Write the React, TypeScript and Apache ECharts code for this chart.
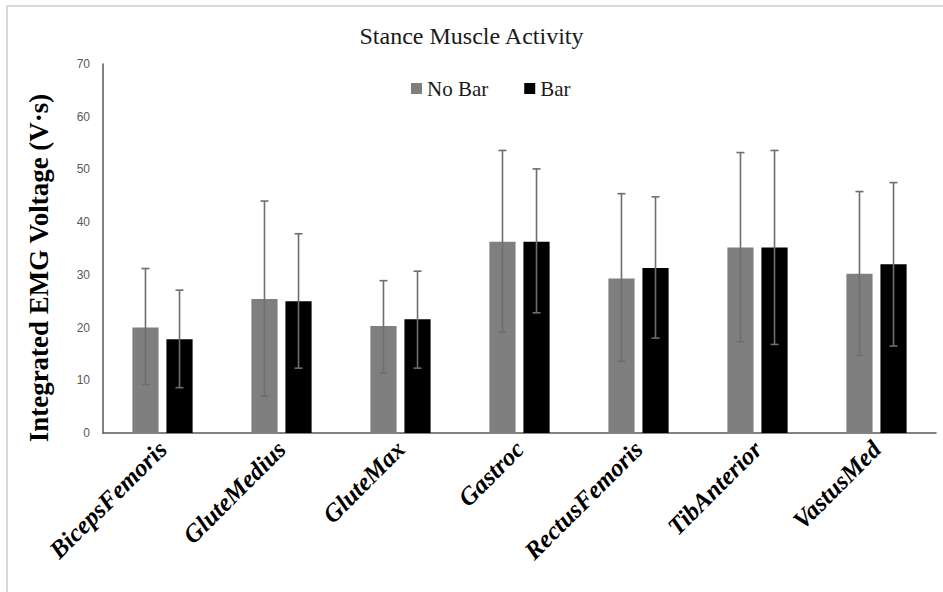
import React, { useEffect, useRef } from "react";
import * as echarts from "echarts";

const categories = ["BicepsFemoris", "GluteMedius", "GluteMax", "Gastroc", "RectusFemoris", "TibAnterior", "VastusMed"];
const seriesNames = ["No Bar", "Bar"];
const noBarValues = [20.0, 25.4, 20.3, 36.3, 29.3, 35.2, 30.2];
const noBarErrHigh = [31.2, 44.0, 28.9, 53.6, 45.4, 53.2, 45.8];
const noBarErrLow = [9.2, 7.0, 11.4, 19.1, 13.6, 17.3, 14.7];
const barValues = [17.8, 25.0, 21.6, 36.3, 31.3, 35.2, 32.0];
const barErrHigh = [27.1, 37.8, 30.7, 50.1, 44.8, 53.6, 47.5];
const barErrLow = [8.6, 12.3, 12.3, 22.8, 18.0, 16.8, 16.5];
const yTicks = { min: 0, max: 70, interval: 10 };

const BAR_W = 0.22;
const BAR_GAP = 0.3;
const SERIF = "'Liberation Serif', 'Times New Roman', serif";

function errorSeries(name: string, lows: number[], highs: number[], sign: number) {
  return {
    type: "custom",
    name: name + " err",
    z: 5,
    silent: true,
    data: categories.map((_, i) => [i, lows[i], highs[i]]),
    encode: { x: 0, y: [1, 2] },
    renderItem: (params: any, api: any) => {
      const i = api.value(0);
      const lo = api.coord([i, api.value(1)]);
      const hi = api.coord([i, api.value(2)]);
      const band = api.size([1, 0])[0];
      const bw = band * BAR_W;
      const cx = lo[0] + (sign * (bw + bw * BAR_GAP)) / 2;
      const cap = 4;
      const style = { stroke: "#6e6e6e", lineWidth: 1.6 };
      return {
        type: "group",
        children: [
          { type: "line", shape: { x1: cx, y1: lo[1], x2: cx, y2: hi[1] }, style },
          { type: "line", shape: { x1: cx - cap, y1: hi[1], x2: cx + cap, y2: hi[1] }, style },
          { type: "line", shape: { x1: cx - cap, y1: lo[1], x2: cx + cap, y2: lo[1] }, style },
        ],
      };
    },
  };
}

export default function App() {
  const ref = useRef<HTMLDivElement>(null);
  useEffect(() => {
    if (!ref.current) return;
    const chart = echarts.init(ref.current, null, { renderer: "svg" });
    chart.setOption({
      animation: false,
      backgroundColor: "#ffffff",
      title: {
        text: "Stance Muscle Activity",
        left: "center",
        top: 24,
        padding: 0,
        textStyle: { fontFamily: SERIF, fontSize: 24, fontWeight: "normal", color: "#1a1a1a" },
      },
      legend: {
        data: seriesNames,
        left: 411,
        top: 78,
        padding: 0,
        itemWidth: 11,
        itemHeight: 11,
        itemGap: 36,
        icon: "rect",
        textStyle: { fontFamily: SERIF, fontSize: 21, color: "#1a1a1a" },
      },
      graphic: [
        {
          type: "rect",
          shape: { x: 7, y: 6, width: 1200, height: 1200 },
          style: { fill: "none", stroke: "#d9d9d9", lineWidth: 2 },
          silent: true,
        },
        {
          type: "text",
          x: 39,
          y: 268,
          rotation: Math.PI / 2,
          style: {
            text: "Integrated EMG Voltage (V·s)",
            fontFamily: SERIF,
            fontSize: 27,
            fontWeight: "bold",
            fill: "#000",
            align: "center",
            verticalAlign: "middle",
          },
        },
      ],
      grid: { left: 103, right: 7, top: 64, bottom: 159, containLabel: false },
      xAxis: {
        type: "category",
        data: categories,
        axisLine: { show: true, lineStyle: { color: "#595959", width: 1.5 } },
        axisTick: { show: false },
        axisLabel: {
          interval: 0,
          rotate: 45,
          margin: 12,
          fontFamily: SERIF,
          fontSize: 25,
          fontWeight: "bold",
          fontStyle: "italic",
          color: "#000",
        },
      },
      yAxis: {
        type: "value",
        min: yTicks.min,
        max: yTicks.max,
        interval: yTicks.interval,
        splitLine: { show: false },
        axisLine: { show: true, lineStyle: { color: "#595959", width: 1.5 } },
        axisTick: { show: false },
        axisLabel: {
          margin: 13,
          fontFamily: "'Liberation Sans', Arial, sans-serif",
          fontSize: 12,
          color: "#595959",
        },
      },
      series: [
        {
          type: "bar",
          name: seriesNames[0],
          data: noBarValues,
          barWidth: BAR_W * 100 + "%",
          barGap: BAR_GAP * 100 + "%",
          itemStyle: { color: "#7f7f7f" },
        },
        {
          type: "bar",
          name: seriesNames[1],
          data: barValues,
          barWidth: BAR_W * 100 + "%",
          barGap: BAR_GAP * 100 + "%",
          itemStyle: { color: "#000000" },
        },
        errorSeries(seriesNames[0], noBarErrLow, noBarErrHigh, -1),
        errorSeries(seriesNames[1], barErrLow, barErrHigh, 1),
      ],
    });
    return () => chart.dispose();
  }, []);
  return (
    <div
      ref={ref}
      style={{ position: "fixed", left: 0, top: 0, width: 943, height: 592, background: "#fff" }}
    />
  );
}
